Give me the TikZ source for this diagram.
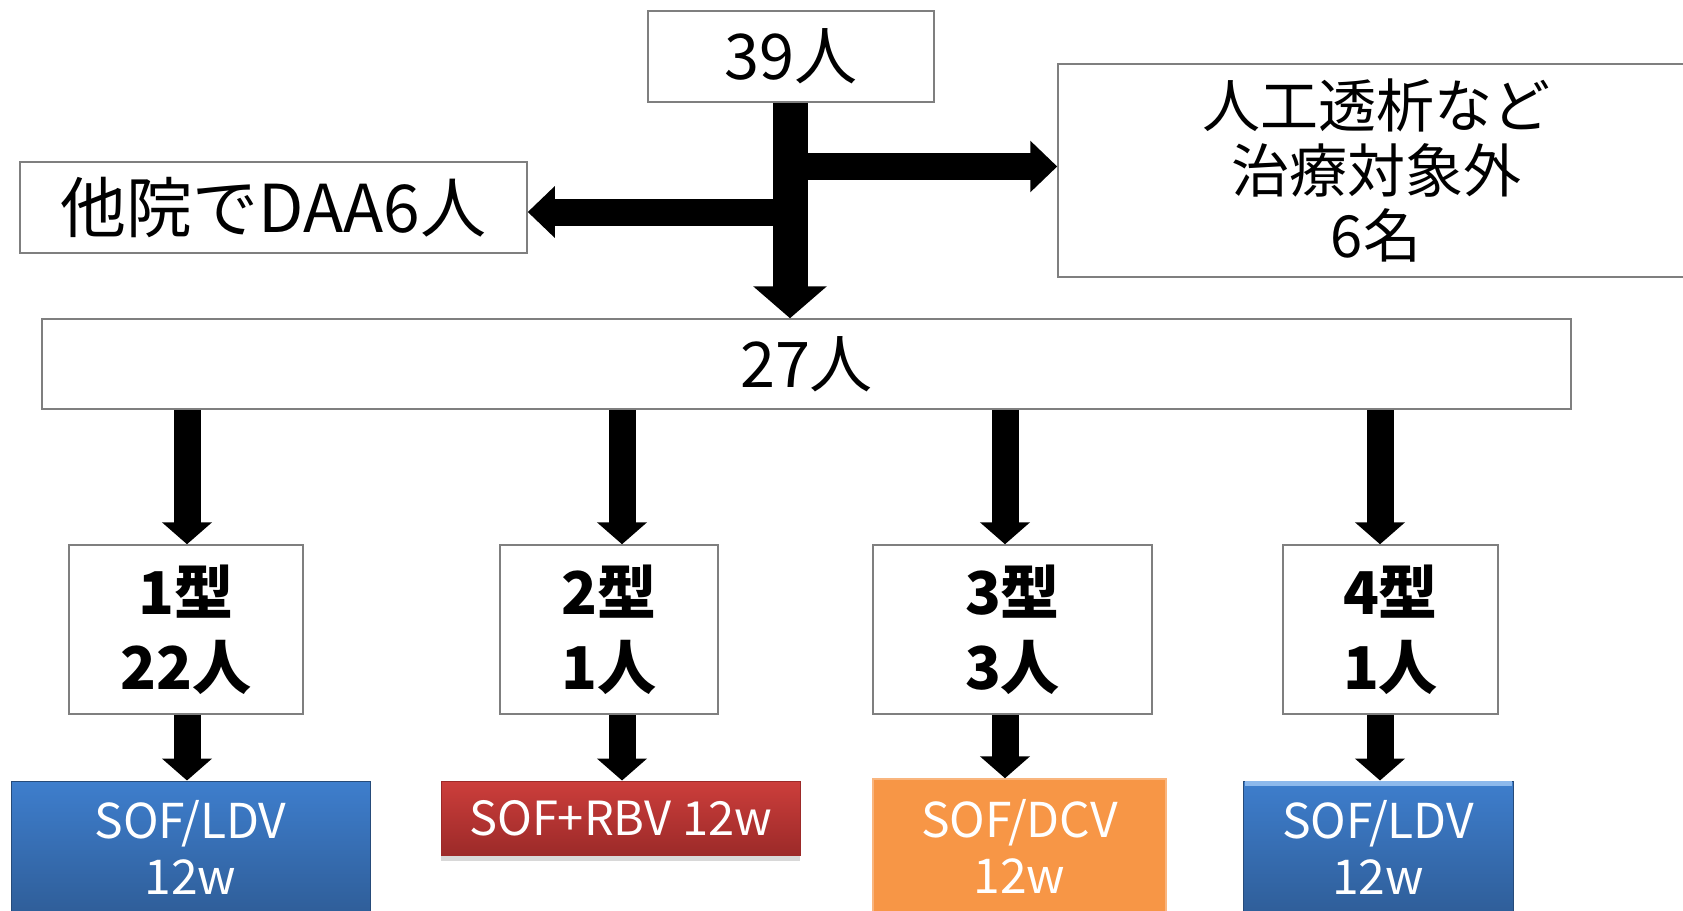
\documentclass[tikz,border=0pt]{standalone}
\usepackage{fontspec}
\setmainfont{Noto Sans CJK JP}
\usetikzlibrary{arrows.meta,shadows}
\definecolor{bordergray}{HTML}{7F7F7F}
\definecolor{blueTop}{HTML}{3E7ECD}
\definecolor{blueBot}{HTML}{2F5E99}
\definecolor{redTop}{HTML}{CC3E3B}
\definecolor{redBot}{HTML}{9C2A29}
\definecolor{orangeFill}{HTML}{F79646}
\definecolor{lightBand}{HTML}{8DB9EC}
\begin{document}
\begin{tikzpicture}[x=0.5pt,y=-0.5pt,
  box/.style={draw=bordergray, line width=0.75pt, fill=white, inner sep=0pt, align=center,
    font=\fontsize{29pt}{32.5pt}\selectfont},
  typebox/.style={box, minimum height=84.5pt, font=\fontsize{29.5pt}{37.5pt}\selectfont\bfseries},
  rxbox/.style={inner sep=0pt, align=center, text=white, font=\fontsize{24pt}{28pt}\selectfont},
  bluebox/.style={rxbox, top color=blueTop, bottom color=blueBot, draw=blueBot!80!black, line width=0.5pt},
  bigarrow/.style={line width=17.5pt, -{Triangle[width=36pt,length=16pt]}},
  sidearrow/.style={line width=13.5pt, -{Triangle[width=25pt,length=13.5pt]}},
  smallarrow/.style={line width=13.5pt, -{Triangle[width=24.5pt,length=11pt]}}
]
\fill[white] (0,0) rectangle (1683,911);
\useasboundingbox (0,0) rectangle (1683,911);

% top boxes
\node[box, minimum width=143pt, minimum height=45.5pt, font=\fontsize{31.5pt}{34pt}\selectfont] (n39) at (791,56.5) {39人};
\node[box, minimum width=253.5pt, minimum height=45.5pt, font=\fontsize{33pt}{36pt}\selectfont] (dal) at (273.5,207.5) {他院でDAA6人};
\node[box, minimum width=318pt, minimum height=106.5pt] (excl) at (1376,170.5) {人工透析など\\治療対象外\\6名};
\node[box, minimum width=764.5pt, minimum height=45pt, font=\fontsize{31.5pt}{34pt}\selectfont] (n27) at (806.5,364) {27人};

% type boxes
\node[typebox, minimum width=117pt] (t1) at (186,629.5) {1型\\22人};
\node[typebox, minimum width=109pt] (t2) at (609,629.5) {2型\\1人};
\node[typebox, minimum width=139.5pt] (t3) at (1012.5,629.5) {3型\\3人};
\node[typebox, minimum width=107.5pt] (t4) at (1390.5,629.5) {4型\\1人};

% regimen boxes
\node[bluebox, minimum width=179.5pt, minimum height=66pt] (b1) at (190.5,847) {SOF/LDV\\12w};
\node[rxbox, top color=redTop, bottom color=redBot, draw=redBot, line width=0.5pt,
      drop shadow={shadow xshift=0pt, shadow yshift=-3pt, opacity=0.3},
      minimum width=179.5pt, minimum height=37pt, font=\fontsize{23.5pt}{28pt}\selectfont] (b2) at (620.5,818) {SOF+RBV 12w};
\node[rxbox, fill=orangeFill, draw=orangeFill!70!white, line width=0.75pt,
      minimum width=146.5pt, minimum height=67pt] (b3) at (1019.5,846) {SOF/DCV\\12w};
\node[bluebox, minimum width=135pt, minimum height=66pt] (b4) at (1378,847) {SOF/LDV\\12w};
\draw[lightBand, line width=2.5pt] ([xshift=1pt,yshift=-1.5pt]b4.north west) -- ([xshift=-1pt,yshift=-1.5pt]b4.north east);

% arrow positions
\coordinate (jl) at (790,212);
\coordinate (jr) at (790,166.5);
\coordinate (c1) at (187,0);
\coordinate (c2) at (622,0);
\coordinate (c3) at (1005,0);
\coordinate (c4) at (1380,0);

% main arrows
\draw[sidearrow] (jl) -- (jl -| dal.east);
\draw[sidearrow] (jr) -- (jr -| excl.west);
\draw[bigarrow] (n39.south -| jl) -- (n27.north -| jl);

% down arrows
\draw[smallarrow] (n27.south -| c1) -- (t1.north -| c1);
\draw[smallarrow] (n27.south -| c2) -- (t2.north -| c2);
\draw[smallarrow] (n27.south -| c3) -- (t3.north -| c3);
\draw[smallarrow] (n27.south -| c4) -- (t4.north -| c4);
\draw[smallarrow] (t1.south -| c1) -- (b1.north -| c1);
\draw[smallarrow] (t2.south -| c2) -- (b2.north -| c2);
\draw[smallarrow] (t3.south -| c3) -- (b3.north -| c3);
\draw[smallarrow] (t4.south -| c4) -- (b4.north -| c4);
\end{tikzpicture}
\end{document}
